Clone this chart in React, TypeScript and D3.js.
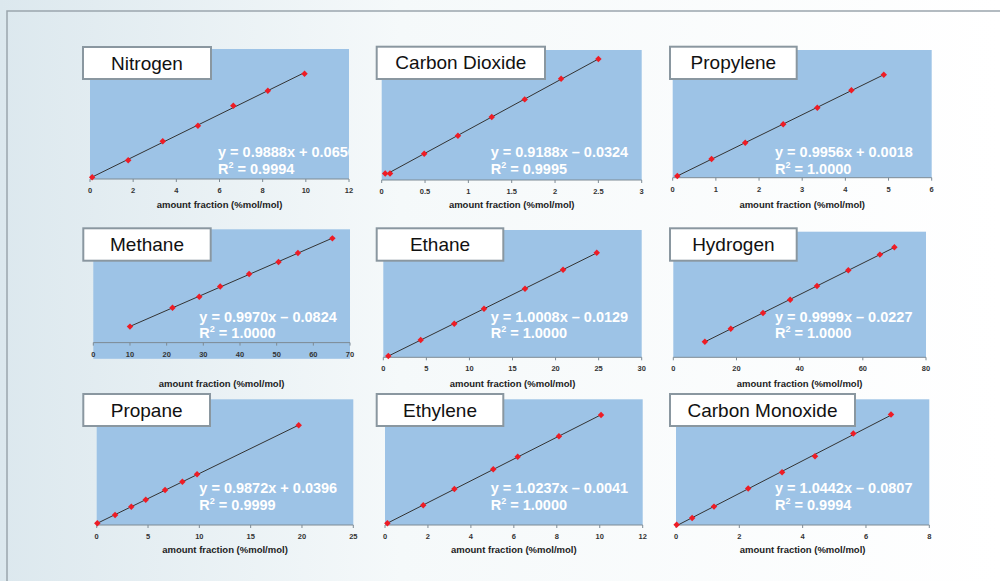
import React from "react";
import * as d3 from "d3";

// calibration data, one entry per gas
const GASES = [
  "Nitrogen", "Carbon Dioxide", "Propylene",
  "Methane", "Ethane", "Hydrogen",
  "Propane", "Ethylene", "Carbon Monoxide",
];

const X_VALUES = [
  [0.1, 1.77, 3.37, 5.0, 6.64, 8.24, 9.94],
  [0.04, 0.096, 0.49, 0.88, 1.27, 1.65, 2.07, 2.5],
  [0.107, 0.9, 1.68, 2.56, 3.35, 4.14, 4.89],
  [10.0, 21.6, 28.9, 34.6, 42.5, 50.5, 55.8, 65.2],
  [0.58, 4.34, 8.24, 11.69, 16.45, 20.87, 24.78],
  [10.0, 18.2, 28.4, 37.0, 45.5, 55.4, 65.4, 70.0],
  [0.06, 1.79, 3.37, 4.78, 6.66, 8.35, 9.78, 19.68],
  [0.11, 1.78, 3.23, 5.04, 6.18, 8.1, 10.06],
  [0.02, 0.51, 1.2, 2.28, 3.35, 4.39, 5.6, 6.79],
];

const Y_VALUES = [
  [0.16, 1.73, 3.48, 4.92, 6.77, 8.15, 9.72],
  [0.0, 0.0, 0.39, 0.75, 1.12, 1.47, 1.88, 2.27],
  [0.08, 0.88, 1.64, 2.51, 3.29, 4.11, 4.84],
  [9.88, 21.6, 28.4, 34.6, 42.4, 49.8, 55.4, 64.4],
  [0.31, 4.08, 7.92, 11.45, 16.17, 20.65, 24.65],
  [9.94, 18.2, 28.2, 36.7, 45.4, 55.4, 65.4, 70.1],
  [0.34, 1.99, 3.64, 5.03, 6.96, 8.61, 10.08, 19.82],
  [0.16, 1.88, 3.44, 5.32, 6.52, 8.47, 10.5],
  [0.02, 0.45, 1.17, 2.32, 3.36, 4.38, 5.82, 7.03],
];

const X_DOMAINS = [[0, 12], [0, 3], [0, 6], [0, 70], [0, 30], [0, 80], [0, 25], [0, 12], [0, 8]];
const Y_DOMAINS = [[0, 12], [-0.13, 2.45], [0, 6], [-10, 70], [0, 30], [0, 80], [0, 25], [0, 12], [0, 8]];
const AXIS_CROSS = [0, -0.13, 0, 0, 0, 0, 0, 0, 0];

const X_TICKS = [
  [0, 2, 4, 6, 8, 10, 12],
  [0, 0.5, 1, 1.5, 2, 2.5, 3],
  [0, 1, 2, 3, 4, 5, 6],
  [0, 10, 20, 30, 40, 50, 60, 70],
  [0, 5, 10, 15, 20, 25, 30],
  [0, 20, 40, 60, 80],
  [0, 5, 10, 15, 20, 25],
  [0, 2, 4, 6, 8, 10, 12],
  [0, 2, 4, 6, 8],
];

const EQUATIONS = [
  "y = 0.9888x + 0.0650", "y = 0.9188x \u2013 0.0324", "y = 0.9956x + 0.0018",
  "y = 0.9970x \u2013 0.0824", "y = 1.0008x \u2013 0.0129", "y = 0.9999x \u2013 0.0227",
  "y = 0.9872x + 0.0396", "y = 1.0237x \u2013 0.0041", "y = 1.0442x \u2013 0.0807",
];
const R_SQUARED = ["0.9994", "0.9995", "1.0000", "1.0000", "1.0000", "1.0000", "0.9999", "1.0000", "0.9994"];

const AXIS_TITLE = "amount fraction (%mol/mol)";

// layout (pixels) for each panel
const LAYOUT = [
  { plot: [90, 49, 259, 130], title: [83, 47, 128, 32], eqX: 218 },
  { plot: [381.7, 50, 260, 130], title: [376.7, 46.7, 168.3, 32.3], eqX: 490.7 },
  { plot: [672.7, 50, 259, 127.7], title: [670, 46.7, 126.7, 32.3], eqX: 775 },
  { plot: [93.3, 229.3, 256.7, 129.5], title: [83.3, 228.3, 127.4, 32.4], eqX: 199.3 },
  { plot: [383.3, 230, 258.4, 127.3], title: [376.7, 228.3, 126.6, 32.4], eqX: 490.7 },
  { plot: [673.3, 231.7, 252.7, 125.6], title: [670, 228.3, 126.7, 32.4], eqX: 775 },
  { plot: [96.7, 399.3, 256.6, 125.7], title: [83.3, 394, 126.7, 32], eqX: 199.3 },
  { plot: [385, 399.3, 257.7, 125.7], title: [376.7, 394, 126.6, 32], eqX: 490.7 },
  { plot: [676, 399.3, 253.3, 125.7], title: [670, 394, 185, 32], eqX: 775 },
];
const ROW_EQ_Y = [157.3, 321.7, 493.3];
const ROW_LABEL_Y = [204, 383.5, 549];

const FONT = "Arial, 'Liberation Sans', Helvetica, sans-serif";

function fitLine(xs: number[], ys: number[]) {
  const mx = d3.mean(xs)!;
  const my = d3.mean(ys)!;
  const sxy = d3.sum(xs, (x, i) => (x - mx) * (ys[i] - my));
  const sxx = d3.sum(xs, (x) => (x - mx) ** 2);
  const slope = sxy / sxx;
  return { slope, intercept: my - slope * mx };
}

const marker = d3.symbol().type(d3.symbolSquare).size(21)();

const Panel = ({ i }: { i: number }) => {
  const lay = LAYOUT[i];
  const [px, py, pw, ph] = lay.plot;
  const [tx, ty, tw, th] = lay.title;
  const row = Math.floor(i / 3);
  const xs = X_VALUES[i];
  const ys = Y_VALUES[i];

  const x = d3.scaleLinear().domain(X_DOMAINS[i]).range([px, px + pw]);
  const y = d3.scaleLinear().domain(Y_DOMAINS[i]).range([py + ph, py]);
  const axisY = y(AXIS_CROSS[i]);

  const { slope, intercept } = fitLine(xs, ys);
  const [x0, x1] = d3.extent(xs) as [number, number];
  const trend = d3
    .line<number>()
    .x((d) => x(d))
    .y((d) => y(slope * d + intercept))([x0, x1]);

  const eqY = ROW_EQ_Y[row];

  return (
    <g>
      <defs>
        <clipPath id={`clip${i}`}>
          <rect x={px} y={py} width={pw} height={ph} />
        </clipPath>
      </defs>
      <rect x={px} y={py} width={pw} height={ph} fill="#9dc3e6" />

      <line x1={px} x2={px + pw} y1={axisY} y2={axisY} stroke="#7d8a94" strokeWidth={1} />
      {X_TICKS[i].map((t) => (
        <g key={t}>
          <line x1={x(t)} x2={x(t)} y1={axisY} y2={axisY + 3} stroke="#7d8a94" />
          <text
            x={x(t)}
            y={axisY + 11.5}
            textAnchor="middle"
            dominantBaseline="central"
            fontFamily={FONT}
            fontWeight="bold"
            fontSize={7.5}
            fill="#333"
          >
            {String(t)}
          </text>
        </g>
      ))}

      <path d={trend ?? ""} stroke="#333" strokeWidth={1} fill="none" />
      {xs.map((xv, k) => (
        <path
          key={k}
          d={marker}
          transform={`translate(${x(xv)},${y(ys[k])}) rotate(45)`}
          fill="#ee1c25"
        />
      ))}

      <g clipPath={`url(#clip${i})`} fontFamily={FONT} fontWeight="bold" fill="#fff" fontSize={14.5}>
        <text x={lay.eqX} y={eqY}>{EQUATIONS[i]}</text>
        <text x={lay.eqX} y={eqY + 16.7}>
          R<tspan fontSize={9} dy={-6}>2</tspan>
          <tspan dy={6}>{` = ${R_SQUARED[i]}`}</tspan>
        </text>
      </g>

      <text
        x={px + pw / 2}
        y={ROW_LABEL_Y[row]}
        textAnchor="middle"
        dominantBaseline="central"
        fontFamily={FONT}
        fontWeight="bold"
        fontSize={9.5}
        fill="#222"
      >
        {AXIS_TITLE}
      </text>

      <rect x={tx} y={ty} width={tw} height={th} fill="#fff" stroke="#8a97a0" strokeWidth={2} />
      <text
        x={tx + tw / 2}
        y={ty + th / 2}
        textAnchor="middle"
        dominantBaseline="central"
        fontFamily={FONT}
        fontSize={19}
        fill="#111"
      >
        {GASES[i]}
      </text>
    </g>
  );
};

export default function App() {
  return (
    <>
      <style>{"body{margin:0}"}</style>
      <svg width={1000} height={581} style={{ display: "block" }}>
        <defs>
          <linearGradient id="bg" x1="0" x2="1" y1="0" y2="0">
            <stop offset="0%" stopColor="#dce8ee" />
            <stop offset="40%" stopColor="#f5f9fa" />
            <stop offset="100%" stopColor="#ffffff" />
          </linearGradient>
        </defs>
        <rect width={1000} height={581} fill="url(#bg)" />
        <path d="M7,581 V11 H1000" fill="none" stroke="#9aa5ad" strokeWidth={1.5} />
        {GASES.map((_, i) => (
          <Panel key={i} i={i} />
        ))}
      </svg>
    </>
  );
}
